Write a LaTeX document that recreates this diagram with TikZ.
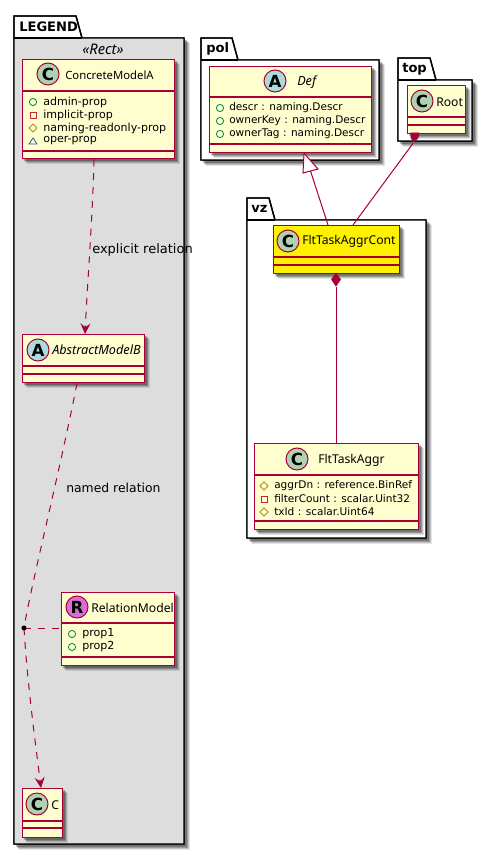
\documentclass[tikz,border=0pt]{standalone}
\usepackage{fontspec}
\setmainfont{DejaVu Sans}
\newfontfamily\namefont{Noto Sans}
\usetikzlibrary{arrows.meta,calc}
\definecolor{umlred}{HTML}{A80036}
\definecolor{umlfill}{HTML}{FEFECE}
\definecolor{lgray}{HTML}{DDDDDD}
\definecolor{cgreen}{HTML}{ADD1B2}
\definecolor{agreen}{HTML}{A9DCDF}
\definecolor{rpink}{HTML}{DA70D6}
\definecolor{pubg}{HTML}{038048}
\definecolor{privr}{HTML}{C82930}
\definecolor{protb}{HTML}{B38D22}
\definecolor{packb}{HTML}{1963A0}
\tikzset{
 x=0.75pt,y=-0.75pt,
 conn/.style={draw=umlred,line width=0.75pt},
 dashc/.style={conn,dash pattern=on 5.2pt off 5.2pt},
 opn/.style={-{Stealth[length=8pt,width=7.5pt,inset=3pt]}},
 lbl/.style={inner sep=0pt,font=\fontsize{9.5}{11}\selectfont},
 attr/.style={anchor=west,inner sep=0pt,font=\fontsize{7.9}{10}\selectfont},
 attrb/.style={anchor=west,inner sep=0pt,font=\fontsize{8.3}{10}\selectfont},
 cname/.style={anchor=west,inner sep=0pt,font=\namefont\fontsize{9.1}{11}\selectfont},
 cnamei/.style={anchor=west,inner sep=0pt,font=\namefont\fontsize{9.5}{11}\itshape\selectfont},
 letter/.style={inner sep=0pt,font=\fontsize{12.5}{12}\bfseries\selectfont},
 tabtxt/.style={anchor=west,inner sep=0pt,font=\fontsize{9.8}{12}\bfseries\selectfont},
 coord/.style={inner sep=0pt,minimum size=0pt},
 solidred/.style={fill=umlred,draw=umlred,line width=0.5pt},
}
\newcommand{\softshadow}[4]{% x1,y1,x2,y2
 \foreach \o/\op in {6/0.10,5/0.15,4/0.2,3/0.25}{
  \fill[black,opacity=\op] (#1+\o-1,#2+\o-1) rectangle (#3+\o,#4+\o);
 }
}
\newcommand{\pkg}[7]{% x1,y0 tabtop,tabright x,y1 bodytop,x2,y2,fill
 \softshadow{#1}{#4}{#5}{#6}
 \draw[black,line width=1pt,fill=white] (#1,#4) -- (#1,#2) -- (#3,#2) -- (#3+6,#4) -- (#5,#4) -- (#5,#6) -- (#1,#6) -- cycle;
 \fill[#7] (#1,#4) rectangle (#5,#6);
 \draw[black,line width=1pt] (#1,#4) -- (#1,#2) -- (#3,#2) -- (#3+6,#4) -- (#5,#4) -- (#5,#6) -- (#1,#6) -- cycle;
 \draw[black,line width=1pt] (#1,#4) -- (#3+6,#4);
}
\newcommand{\cls}[8]{% name,x1,y1,x2,y2,line1,line2,fill
 \softshadow{#2}{#3}{#4}{#5}
 \node[coord,draw=umlred,line width=1pt,fill=#8,anchor=north west,minimum width={(#4-#2)*0.75pt},minimum height={(#5-#3)*0.75pt}] (#1) at (#2,#3) {};
 \draw[umlred,line width=1pt] (#2,#6) -- (#4,#6) (#2,#7) -- (#4,#7);
}
\newcommand{\circl}[4]{% x,y,color,letter
 \node[coord,circle,draw=umlred,line width=0.75pt,fill=#3,minimum size=16.5pt] at (#1,#2) {};
 \node[letter] at (#1,#2) {#4};
}
\newcommand{\pubicon}[2]{\draw[pubg,line width=0.6pt] (#1,#2) circle (2.7pt);}
\newcommand{\privicon}[2]{\draw[privr,line width=0.6pt] (#1-3,#2-3) rectangle (#1+3,#2+3);}
\newcommand{\proticon}[2]{\draw[protb,line width=0.6pt] (#1-4,#2) -- (#1,#2-4) -- (#1+4,#2) -- (#1,#2+4) -- cycle;}
\newcommand{\pkgicon}[2]{\draw[packb,line width=0.6pt] (#1-4,#2+3) -- (#1,#2-3) -- (#1+4,#2+3) -- cycle;}
\begin{document}
\begin{tikzpicture}
\useasboundingbox (0,0) rectangle (493,855);
% packages
\pkg{14}{16}{76}{38}{184}{844}{lgray}
\node[tabtxt] (legendt) at (19,27) {LEGEND};
\node[inner sep=0pt,font=\namefont\fontsize{11}{12}\itshape\selectfont] (rect) at (103,49) {«Rect»};
\pkg{201}{38}{232}{60}{379}{160}{white}
\node[tabtxt] (polt) at (206,49) {pol};
\pkg{398}{58}{430}{80}{472}{141}{white}
\node[tabtxt] (topt) at (402,69) {top};
\pkg{247}{198}{269}{220}{426}{538}{white}
\node[tabtxt] (vzt) at (251,209) {vz};
% classes
\cls{concrete}{22}{59}{174}{158}{91}{151}{umlfill}
\circl{48}{74}{cgreen}{C}
\node[cname,font=\namefont\fontsize{8.5}{11}\selectfont] (concretet) at (65,75) {ConcreteModelA};
\pubicon{33}{102}\node[attrb] (a1) at (43,102) {admin-prop};
\privicon{33}{115}\node[attrb] (a2) at (43,115) {implicit-prop};
\proticon{33}{128}\node[attrb] (a3) at (43,128) {naming-readonly-prop};
\pkgicon{33}{141}\node[attrb] (a4) at (43,141) {oper-prop};
\cls{abstract}{22}{334}{144}{382}{366}{374}{umlfill}
\circl{38}{350}{agreen}{A}
\node[cnamei] (abstractt) at (52,350) {AbstractModelB};
\cls{relation}{61}{592}{174}{665}{623}{657}{umlfill}
\circl{77}{607}{rpink}{R}
\node[cname] (relationt) at (91,608) {RelationModel};
\pubicon{72}{634}\node[attrb] (r1) at (82,634) {prop1};
\pubicon{72}{647}\node[attrb] (r2) at (82,647) {prop2};
\cls{cc}{22}{788}{62}{837}{821}{828}{umlfill}
\circl{37}{804}{cgreen}{C}
\node[cname] (cct) at (51,805) {C};
\cls{def}{209}{66}{371}{152}{97}{144}{umlfill}
\circl{275}{81}{agreen}{A}
\node[cnamei] (deft) at (297,82) {Def};
\pubicon{220}{108}\node[attr] (d1) at (229,108) {descr : naming.Descr};
\pubicon{220}{121}\node[attr] (d2) at (229,121) {ownerKey : naming.Descr};
\pubicon{220}{134}\node[attr] (d3) at (229,134) {ownerTag : naming.Descr};
\cls{root}{407}{85}{465}{133}{117}{125}{umlfill}
\circl{422}{101}{cgreen}{C}
\node[cname] (roott) at (436,102) {Root};
\cls{cont}{273}{225}{399}{273}{257}{265}{yellow}
\circl{288}{241}{cgreen}{C}
\node[cname] (contt) at (302,241) {FltTaskAggrCont};
\cls{aggr}{254}{443}{418}{529}{475}{521}{umlfill}
\circl{297}{459}{cgreen}{C}
\node[cname] (aggrt) at (318,460) {FltTaskAggr};
\proticon{264}{486}\node[attr] (g1) at (274,486) {aggrDn : reference.BinRef};
\privicon{264}{499}\node[attr] (g2) at (274,499) {filterCount : scalar.Uint32};
\proticon{264}{512}\node[attr] (g3) at (274,512) {txId : scalar.Uint64};
% connectors
\coordinate (dot) at (24,628);
\coordinate (cA) at ($(concrete.south west)+(72,0)$);
\coordinate (cB) at ($(abstract.north west)+(63,0)$);
\draw[dashc,opn] (cA) .. controls (93,210) and (87,290) .. (cB);
\node[lbl,anchor=west,font=\fontsize{9.75}{11}\selectfont] (explicit) at (92,250) {explicit relation};
\draw[dashc] ($(abstract.south west)+(55,0)$) .. controls (60,470) and (30,590) .. (dot);
\node[lbl,anchor=west,font=\fontsize{9.3}{11}\selectfont] (named) at (66,488) {named relation};
\draw[dashc] (dot) -- (relation.west |- dot);
\draw[dashc,opn] (dot) .. controls (27,680) and (35,740) .. ($(cc.north west)+(19,0)$);
\fill[black] (dot) circle (1.9pt);
\coordinate (tria) at ($(def.south west)+(95,0)$);
\coordinate (trib) at (310.5,171);
\draw[conn] (trib) -- ($(cont.north west)+(55,0)$);
\draw[conn,fill=white] (tria) -- (303,173) -- (318,169) -- cycle;
\coordinate (rd) at ($(root.south west)+(6,9)$);
\draw[conn] (rd) -- ($(cont.north west)+(80,0)$);
\draw[solidred] (411,133) -- (419,133) -- (418,138) -- (414,142) -- (411,138) -- cycle;
\coordinate (cd) at ($(cont.south west)+(63,13)$);
\draw[conn] (cd) -- ($(aggr.north west)+(82,0)$);
\draw[solidred] (336,273) -- (340.5,279.5) -- (336,286) -- (331.5,279.5) -- cycle;
\end{tikzpicture}
\end{document}
